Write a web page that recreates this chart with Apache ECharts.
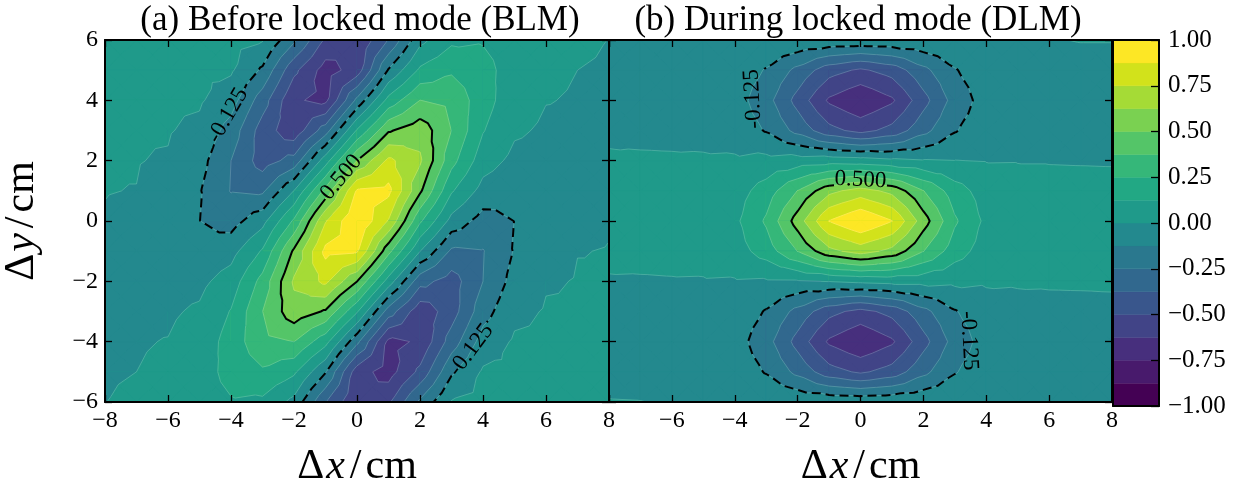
<!DOCTYPE html>
<html><head><meta charset="utf-8">
<script src="https://cdn.jsdelivr.net/npm/echarts@6/dist/echarts.min.js"></script>
<style>html,body{margin:0;padding:0;background:#fff}#c{width:1246px;height:493px}</style>
</head><body><div id="c"></div>
<script>
// ---------------- data ----------------
const xs = [-8,-7,-6,-5,-4,-3,-2,-1,0,1,2,3,4,5,6,7,8];
const ys = [6,5,4,3,2,1,0,-1,-2,-3,-4,-5,-6];          // row order of the value tables
const levels = [-1,-0.875,-0.75,-0.625,-0.5,-0.375,-0.25,-0.125,0,0.125,0.25,0.375,0.5,0.625,0.75,0.875,1];
const solidLevel = 0.5;
const dashedLevel = -0.125;
const titleA = '(a) Before locked mode (BLM)';
const titleB = '(b) During locked mode (DLM)';

// (a) Before locked mode: correlation values, rows y=6..-6, columns x=-8..8
const blm = [
 [0.0015,0.0042,0.0103,0.0215,0.036,0.008,-0.226,-0.52,-0.616,-0.368,-0.037,0.100,0.115,0.065,0.020,0.003,-0.0002],
 [0.0014,0.0041,0.0102,0.0217,0.016,-0.145,-0.47,-0.68,-0.57,-0.115,0.147,0.232,0.167,0.067,0.0136,0.0,-0.0016],
 [0.0013,0.0039,0.0099,0.0144,-0.0715,-0.316,-0.61,-0.655,-0.218,0.168,0.376,0.346,0.176,0.0475,0.0028,-0.0055,-0.003],
 [0.0012,0.0037,0.007,-0.026,-0.176,-0.434,-0.585,-0.308,0.139,0.486,0.579,0.374,0.132,0.0158,-0.0148,-0.0117,-0.0037],
 [0.0011,0.0027,-0.0067,-0.079,-0.25,-0.433,-0.33,0.069,0.502,0.779,0.644,0.294,0.055,-0.030,-0.036,-0.0147,-0.0032],
 [0.0009,-0.0008,-0.028,-0.117,-0.256,-0.272,0.003,0.415,0.89,0.91,0.522,0.139,-0.045,-0.091,-0.047,-0.0133,-0.0018],
 [-0.002,-0.008,-0.0438,-0.1235,-0.176,-0.042,0.271,0.741,1.0,0.741,0.271,-0.042,-0.176,-0.1235,-0.0438,-0.008,-0.002],
 [-0.0018,-0.0133,-0.047,-0.091,-0.045,0.139,0.522,0.91,0.89,0.415,0.003,-0.272,-0.256,-0.117,-0.028,-0.0008,0.0009],
 [-0.0032,-0.0147,-0.036,-0.030,0.055,0.294,0.644,0.779,0.502,0.069,-0.33,-0.433,-0.25,-0.079,-0.0067,0.0027,0.0011],
 [-0.0037,-0.0117,-0.0148,0.0158,0.132,0.374,0.579,0.486,0.139,-0.308,-0.585,-0.434,-0.176,-0.026,0.007,0.0037,0.0012],
 [-0.003,-0.0055,0.0028,0.0475,0.176,0.346,0.376,0.168,-0.218,-0.655,-0.61,-0.316,-0.0715,0.0144,0.0099,0.0039,0.0013],
 [-0.0016,0.0,0.0136,0.067,0.167,0.232,0.147,-0.115,-0.57,-0.68,-0.47,-0.145,0.016,0.0217,0.0102,0.0041,0.0014],
 [-0.0002,0.003,0.020,0.065,0.115,0.100,-0.037,-0.368,-0.616,-0.52,-0.226,0.008,0.036,0.0215,0.0103,0.0042,0.0015]
];
// (b) During locked mode
const dlm = [
 [-0.02,-0.02,-0.02,-0.012,-0.003,-0.008,-0.017,-0.026,-0.03,-0.026,-0.017,-0.008,-0.003,-0.01,-0.003,0.002,0.002],
 [-0.02,-0.02,-0.02,-0.025,-0.049,-0.134,-0.285,-0.45,-0.52,-0.45,-0.285,-0.134,-0.049,-0.025,-0.02,-0.02,-0.02],
 [-0.02,-0.02,-0.02,-0.03,-0.07,-0.2,-0.42,-0.645,-0.74,-0.645,-0.42,-0.2,-0.07,-0.03,-0.02,-0.02,-0.02],
 [-0.012,-0.02,-0.02,-0.028,-0.049,-0.134,-0.29,-0.46,-0.54,-0.46,-0.29,-0.134,-0.049,-0.025,-0.02,-0.02,-0.02],
 [0.008,0.011,0.009,0.011,0.014,0.036,0.057,0.070,0.056,0.028,0.009,0.002,-0.004,-0.003,-0.003,-0.004,-0.005],
 [0.02,0.02,0.02,0.03,0.066,0.182,0.379,0.588,0.68,0.588,0.379,0.182,0.066,0.03,0.02,0.02,0.02],
 [0.02,0.02,0.02,0.035,0.097,0.268,0.558,0.88,1.0,0.88,0.558,0.268,0.097,0.035,0.02,0.02,0.02],
 [0.015,0.02,0.02,0.028,0.066,0.182,0.379,0.588,0.68,0.588,0.379,0.182,0.066,0.03,0.02,0.02,0.02],
 [-0.005,-0.006,-0.004,-0.005,-0.008,-0.014,-0.012,0.004,0.026,0.043,0.042,0.027,0.013,0.009,0.008,0.009,0.011],
 [-0.02,-0.02,-0.02,-0.025,-0.049,-0.134,-0.29,-0.46,-0.54,-0.46,-0.29,-0.134,-0.049,-0.028,-0.02,-0.02,-0.02],
 [-0.02,-0.02,-0.02,-0.03,-0.07,-0.2,-0.42,-0.645,-0.74,-0.645,-0.42,-0.2,-0.07,-0.03,-0.02,-0.02,-0.02],
 [-0.015,-0.02,-0.02,-0.025,-0.049,-0.134,-0.285,-0.45,-0.52,-0.45,-0.285,-0.134,-0.049,-0.025,-0.02,-0.02,-0.02],
 [0.002,0.001,-0.005,-0.01,-0.003,-0.008,-0.017,-0.026,-0.03,-0.026,-0.017,-0.008,-0.003,-0.012,-0.02,-0.02,-0.02]
];
// inline contour labels: position (data units), rotation (deg)
const labelsA = [
 {x:-0.50, y:1.45, rot:50, text:'0.500'},
 {x:-4.10, y:3.50, rot:60, text:'-0.125'},
 {x:3.62,  y:-4.28, rot:53, text:'-0.125'}
];
const labelsB = [
 {x:0.0,  y:1.36, rot:-3, text:'0.500'},
 {x:-3.42, y:4.05, rot:93, text:'-0.125'},
 {x:3.45,  y:-3.97, rot:-87, text:'-0.125'}
];

// ---------------- style ----------------
const palette = ['#440154','#481a6c','#472f7d','#414487','#39568c','#31688e','#2a788e','#23898e',
                 '#1f9a8a','#22a884','#35b779','#54c568','#7ad151','#a5db36','#d2e21b','#fde725'];
const SERIF = '"Liberation Serif","DejaVu Serif",serif';
const MINUS = '\u2212';

// ---------------- contour helpers ----------------
function clip(poly, L, above) {
  const out = []; const n = poly.length;
  for (let k = 0; k < n; k++) {
    const a = poly[k], b = poly[(k + 1) % n];
    const ina = above ? a.v >= L : a.v <= L;
    const inb = above ? b.v >= L : b.v <= L;
    if (ina) out.push(a);
    if (ina !== inb) {
      const t = (L - a.v) / (b.v - a.v);
      out.push({x: a.x + t * (b.x - a.x), y: a.y + t * (b.y - a.y), v: L});
    }
  }
  return out;
}
function cellTris(grid, i, j) {
  const x0 = xs[i], x1 = xs[i + 1], yT = ys[j], yB = ys[j + 1];
  const c = [
    {x:x0, y:yT, v:grid[j][i], k:'g'+j+'_'+i},
    {x:x1, y:yT, v:grid[j][i+1], k:'g'+j+'_'+(i+1)},
    {x:x1, y:yB, v:grid[j+1][i+1], k:'g'+(j+1)+'_'+(i+1)},
    {x:x0, y:yB, v:grid[j+1][i], k:'g'+(j+1)+'_'+i}
  ];
  const C = {x:(x0+x1)/2, y:(yT+yB)/2, v:(c[0].v+c[1].v+c[2].v+c[3].v)/4, k:'c'+j+'_'+i};
  return [0,1,2,3].map(k => [c[k], c[(k+1)%4], C]);
}
function bandOf(v) { for (let b = 0; b < 16; b++) if (v <= levels[b + 1]) return b; return 15; }
function fillRender(grid) {
  return function (params, api) {
    const i = api.value(2), j = api.value(3);
    const tris = cellTris(grid, i, j);
    const children = [];
    const p0 = api.coord([xs[i], ys[j]]), p1 = api.coord([xs[i+1], ys[j+1]]);
    const cb = bandOf(tris[0][2].v);
    children.push({type:'rect', silent:true, shape:{x:p0[0], y:p0[1], width:p1[0]-p0[0], height:p1[1]-p0[1]},
      style:{fill: palette[cb], stroke: palette[cb], lineWidth: 1}});
    for (const tri of tris) {
      const vs = tri.map(p => p.v);
      const mn = Math.min(...vs), mx = Math.max(...vs);
      for (let b = 0; b < 16; b++) {
        const lo = levels[b], hi = levels[b + 1];
        if (mx < lo || mn > hi) continue;
        let poly = clip(tri, lo, true); if (poly.length < 3) continue;
        poly = clip(poly, hi, false); if (poly.length < 3) continue;
        children.push({type:'polygon', silent:true,
          shape:{points: poly.map(p => api.coord([p.x, p.y]))},
          style:{fill: palette[b], stroke: palette[b], lineWidth: 1, lineJoin:'round'}});
      }
    }
    return {type:'group', children};
  };
}
function levelSegments(grid, L) {
  const segs = [];
  for (let j = 0; j < ys.length - 1; j++) for (let i = 0; i < xs.length - 1; i++) {
    for (const tri of cellTris(grid, i, j)) {
      const pts = [];
      for (let e = 0; e < 3; e++) {
        let p = tri[e], q = tri[(e + 1) % 3];
        if ((p.v >= L) !== (q.v >= L)) {
          if (p.k > q.k) { const t = p; p = q; q = t; }
          const t = (L - p.v) / (q.v - p.v);
          pts.push({key: p.k + '|' + q.k, x: p.x + t * (q.x - p.x), y: p.y + t * (q.y - p.y)});
        }
      }
      if (pts.length === 2) segs.push(pts);
    }
  }
  return segs;
}
function chain(segs) {
  const map = new Map();
  segs.forEach((s, idx) => s.forEach(p => { if (!map.has(p.key)) map.set(p.key, []); map.get(p.key).push(idx); }));
  const used = new Array(segs.length).fill(false);
  const lines = [];
  function walk(idx, key) {
    const s0 = segs[idx];
    const line = [s0[0].key === key ? s0[0] : s0[1]];
    while (idx !== -1 && !used[idx]) {
      used[idx] = true;
      const s = segs[idx];
      const other = s[0].key === key ? s[1] : s[0];
      line.push(other); key = other.key;
      const nb = map.get(key).filter(k => !used[k]);
      idx = nb.length ? nb[0] : -1;
    }
    return line;
  }
  for (const [k, arr] of map) if (arr.length === 1 && !used[arr[0]]) lines.push(walk(arr[0], k));
  for (let i = 0; i < segs.length; i++) if (!used[i]) lines.push(walk(i, segs[i][0].key));
  return lines;
}
function gapCut(line, circles) {
  const pieces = []; let cur = null;
  for (let s = 0; s < line.length - 1; s++) {
    const p = line[s], q = line[s + 1];
    const dx = q[0] - p[0], dy = q[1] - p[1];
    let ins = [];
    for (const c of circles) {
      const fx = p[0] - c[0], fy = p[1] - c[1];
      const A = dx*dx + dy*dy, B = 2*(fx*dx + fy*dy), Cc = fx*fx + fy*fy - c[2]*c[2];
      const D = B*B - 4*A*Cc;
      if (A === 0 || D <= 0) continue;
      const r = Math.sqrt(D);
      const t0 = (-B - r) / (2*A), t1 = (-B + r) / (2*A);
      if (t1 <= 0 || t0 >= 1) continue;
      ins.push([Math.max(0, t0), Math.min(1, t1)]);
    }
    ins.sort((a, b) => a[0] - b[0]);
    let t = 0; const outs = [];
    for (const iv of ins) { if (iv[0] > t) outs.push([t, iv[0]]); t = Math.max(t, iv[1]); }
    if (t < 1) outs.push([t, 1]);
    const P = tt => [p[0] + tt*dx, p[1] + tt*dy];
    for (const o of outs) {
      if (o[0] === 0 && cur) { cur.push(P(o[1])); }
      else { cur = [P(o[0]), P(o[1])]; pieces.push(cur); }
      if (o[1] < 1) cur = null;
    }
    if (!outs.length) cur = null;
  }
  return pieces;
}
function labelRadius(txt) { return txt.length >= 6 ? 32 : 27; }
function linesRender(grid, labels) {
  return function (params, api) {
    const children = [];
    const circles = labels.map(l => { const c = api.coord([l.x, l.y]); return [c[0], c[1], labelRadius(l.text)]; });
    for (let b = 1; b < levels.length - 1; b++) {
      const L = levels[b];
      const lines = chain(levelSegments(grid, L)).map(ln => ln.map(p => api.coord([p.x, p.y])));
      for (const pts of lines) children.push({type:'polyline', silent:true, shape:{points: pts},
        style:{stroke:'rgba(255,255,255,0.3)', lineWidth:0.6, fill:null}});
      if (L === solidLevel || L === dashedLevel) {
        for (const pts of lines) for (const piece of gapCut(pts, circles)) {
          children.push({type:'polyline', silent:true, z2:5, shape:{points: piece},
            style:{stroke:'#000', lineWidth:2, fill:null, lineJoin:'round', lineDash: L === dashedLevel ? [9,5] : null}});
        }
      }
    }
    return {type:'group', children};
  };
}
function labelRender(labels) {
  return function (params, api) {
    const l = labels[params.dataIndex];
    const c = api.coord([api.value(0), api.value(1)]);
    return {type:'text', silent:true, x:c[0], y:c[1], rotation: l.rot * Math.PI / 180,
      style:{text: l.text, font: '23px ' + SERIF, fill:'#000', align:'center', verticalAlign:'middle',
             textAlign:'center', textVerticalAlign:'middle'}};
  };
}
function cbRender(params, api) {
  const lo = api.value(0), hi = api.value(1), b = api.value(2);
  const p0 = api.coord([0, hi]), p1 = api.coord([1, lo]);
  return {type:'rect', silent:true, shape:{x:p0[0], y:p0[1], width:p1[0]-p0[0], height:p1[1]-p0[1]},
    style:{fill: palette[b], stroke: palette[b], lineWidth: 0.5}};
}

// ---------------- build option ----------------
const cells = [];
for (let j = 0; j < ys.length - 1; j++) for (let i = 0; i < xs.length - 1; i++) cells.push([xs[i], ys[j], i, j]);
const cbBands = levels.slice(0, -1).map((lo, b) => [lo, levels[b + 1], b]);

const fmtInt = v => (v < 0 ? MINUS + (-v) : '' + v);
const fmtCb = v => (v < 0 ? MINUS : '') + Math.abs(v).toFixed(2);
const lineStyle = {color:'#000', width:2};
const tickStyle = {show:true, inside:true, length:7, lineStyle:{color:'#000', width:1.3}};
const labelStyle = {color:'#000', fontFamily: SERIF, fontSize: 24};
const nameRich = {
  d:{fontFamily: SERIF, fontSize: 42, color:'#000'},
  i:{fontFamily: SERIF, fontSize: 42, fontStyle:'italic', color:'#000', padding:[0,5,0,2]},
  s:{fontFamily: SERIF, fontSize: 42, color:'#000', padding:[0,4,0,0]},
  u:{fontFamily: SERIF, fontSize: 42, color:'#000'}
};
function xAx(grid, pos, labels, name, hideFirst) {
  return {gridIndex: grid, type:'value', min:-8, max:8, interval:2, position: pos, z:10,
    axisLine:{show:true, onZero:false, lineStyle}, axisTick: tickStyle, splitLine:{show:false},
    axisLabel: labels ? Object.assign({show:true, margin:7, formatter: v => (hideFirst && v === -8) ? '' : fmtInt(v)}, labelStyle) : {show:false},
    name: name || '', nameLocation:'middle', nameGap: 44, nameTextStyle:{rich: nameRich}};
}
function yAx(grid, pos, labels, name) {
  return {gridIndex: grid, type:'value', min:-6, max:6, interval:2, position: pos, z:10,
    axisLine:{show:true, onZero:false, lineStyle}, axisTick: tickStyle, splitLine:{show:false},
    axisLabel: labels ? Object.assign({show:true, margin:7, formatter: fmtInt}, labelStyle) : {show:false},
    name: name || '', nameLocation:'middle', nameGap: 62, nameRotate: 90, nameTextStyle:{rich: nameRich}};
}
const xName = '{d|\u0394}{i|x}{s|/}{u|cm}';
const yName = '{d|\u0394}{i|y}{s|/}{u|cm}';

const option = {
  animation: false,
  backgroundColor: '#fff',
  grid: [
    {left:105, top:40, width:504, height:366},
    {left:609, top:40, width:503, height:366},
    {left:1113, top:40, width:46, height:366}
  ],
  xAxis: [
    xAx(0, 'bottom', true, xName, false), xAx(0, 'top', false),
    xAx(1, 'bottom', true, xName, true), xAx(1, 'top', false),
    {gridIndex:2, type:'value', min:0, max:1, position:'bottom', z:10, axisLine:{show:true, onZero:false, lineStyle}, axisTick:{show:false}, axisLabel:{show:false}, splitLine:{show:false}},
    {gridIndex:2, type:'value', min:0, max:1, position:'top', z:10, axisLine:{show:true, onZero:false, lineStyle}, axisTick:{show:false}, axisLabel:{show:false}, splitLine:{show:false}}
  ],
  yAxis: [
    yAx(0, 'left', true, yName), yAx(0, 'right', false),
    yAx(1, 'left', false), yAx(1, 'right', false),
    {gridIndex:2, type:'value', min:-1, max:1, interval:0.25, position:'left', z:10, axisLine:{show:true, onZero:false, lineStyle}, axisTick:{show:false}, axisLabel:{show:false}, splitLine:{show:false}},
    {gridIndex:2, type:'value', min:-1, max:1, interval:0.25, position:'right', z:10, axisLine:{show:true, onZero:false, lineStyle},
      axisTick:{show:true, inside:true, length:8, lineStyle:{color:'#000', width:1.3}},
      axisLabel: Object.assign({show:true, margin:9, formatter: fmtCb}, labelStyle, {fontSize:25}), splitLine:{show:false}}
  ],
  series: [
    {type:'custom', xAxisIndex:0, yAxisIndex:0, data: cells, encode:{x:0, y:1}, renderItem: fillRender(blm), clip:true, z:1},
    {type:'custom', xAxisIndex:0, yAxisIndex:0, data: [[0, 0]], encode:{x:0, y:1}, renderItem: linesRender(blm, labelsA), clip:true, z:2},
    {type:'custom', xAxisIndex:0, yAxisIndex:0, data: labelsA.map(l => [l.x, l.y]), encode:{x:0, y:1}, renderItem: labelRender(labelsA), z:3},
    {type:'custom', xAxisIndex:2, yAxisIndex:2, data: cells, encode:{x:0, y:1}, renderItem: fillRender(dlm), clip:true, z:1},
    {type:'custom', xAxisIndex:2, yAxisIndex:2, data: [[0, 0]], encode:{x:0, y:1}, renderItem: linesRender(dlm, labelsB), clip:true, z:2},
    {type:'custom', xAxisIndex:2, yAxisIndex:2, data: labelsB.map(l => [l.x, l.y]), encode:{x:0, y:1}, renderItem: labelRender(labelsB), z:3},
    {type:'custom', xAxisIndex:4, yAxisIndex:4, data: cbBands, encode:{x:0, y:0}, renderItem: cbRender, z:1}
  ],
  graphic: [
    {type:'text', x:360, y:21, silent:true, style:{text: titleA, font:'35px ' + SERIF, fill:'#000', align:'center', verticalAlign:'middle', textAlign:'center', textVerticalAlign:'middle'}},
    {type:'text', x:858, y:21, silent:true, style:{text: titleB, font:'35px ' + SERIF, fill:'#000', align:'center', verticalAlign:'middle', textAlign:'center', textVerticalAlign:'middle'}}
  ]
};
const chart = echarts.init(document.getElementById('c'), null, {renderer:'canvas'});
chart.setOption(option);
</script>
</body></html>
